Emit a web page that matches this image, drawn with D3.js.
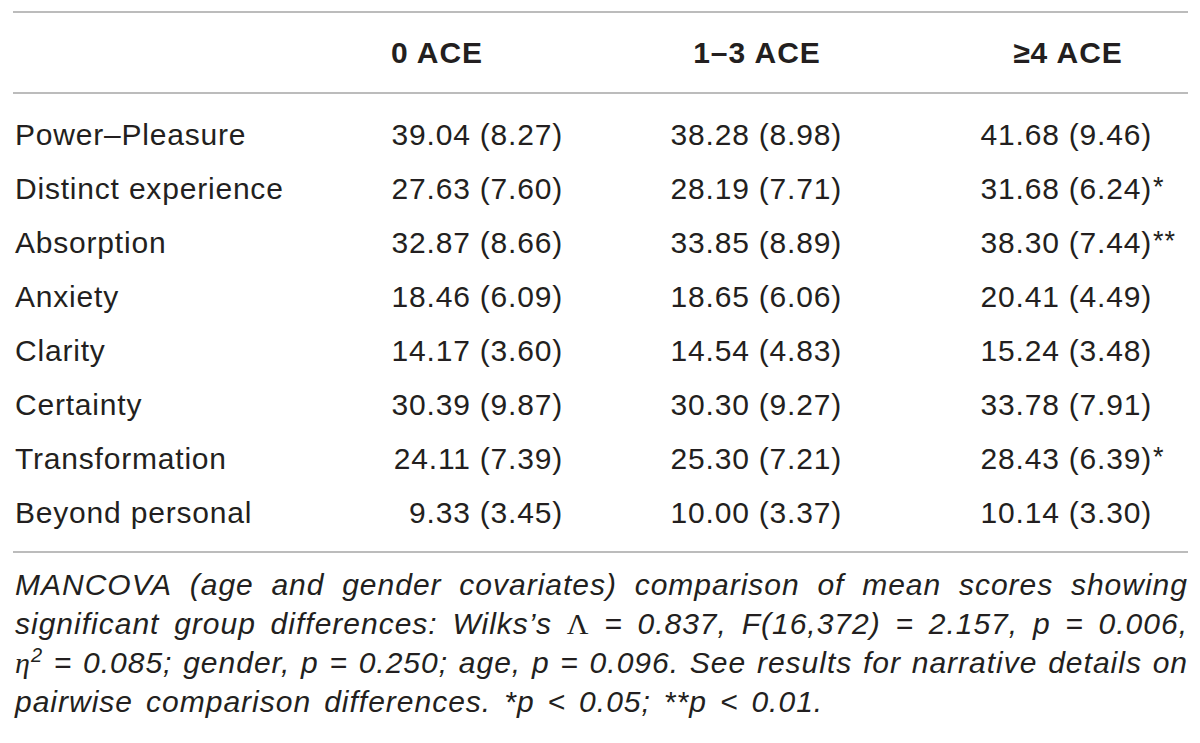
<!DOCTYPE html>
<html>
<head>
<meta charset="utf-8">
<script src="https://cdnjs.cloudflare.com/ajax/libs/d3/7.8.5/d3.min.js"></script>
<style>
  html, body { margin: 0; padding: 0; background: #fff; }
  svg text { font-family: "Liberation Sans", Arial, Helvetica, sans-serif; fill: #231f20; }
</style>
</head>
<body>
<svg id="table" width="1200" height="743"></svg>
<script>
// table data
var groups = ["0 ACE", "1–3 ACE", "≥4 ACE"];
var scales = ["Power–Pleasure", "Distinct experience", "Absorption", "Anxiety",
              "Clarity", "Certainty", "Transformation", "Beyond personal"];
var means0 = ["39.04", "27.63", "32.87", "18.46", "14.17", "30.39", "24.11", "9.33"];
var sds0   = ["8.27", "7.60", "8.66", "6.09", "3.60", "9.87", "7.39", "3.45"];
var means1 = ["38.28", "28.19", "33.85", "18.65", "14.54", "30.30", "25.30", "10.00"];
var sds1   = ["8.98", "7.71", "8.89", "6.06", "4.83", "9.27", "7.21", "3.37"];
var means4 = ["41.68", "31.68", "38.30", "20.41", "15.24", "33.78", "28.43", "10.14"];
var sds4   = ["9.46", "6.24", "7.44", "4.49", "3.48", "7.91", "6.39", "3.30"];
var sig4   = ["", "*", "**", "", "", "", "*", ""];

var noteLines = [
    "MANCOVA (age and gender covariates) comparison of mean scores showing",
    "significant group differences: Wilks’s Λ = 0.837, F(16,372) = 2.157, p = 0.006,",
    "η2 = 0.085; gender, p = 0.250; age, p = 0.096. See results for narrative details on",
    "pairwise comparison differences. *p < 0.05; **p < 0.01."
];

var svg = d3.select("#table");
var left = 13, right = 1188;

// rows and columns
var rowY = d3.scaleLinear().domain([0, scales.length - 1]).range([145, 523]);
var colRight = d3.scaleOrdinal().domain(groups).range([563, 842, 1152]);
var headX = d3.scaleOrdinal().domain(groups).range([437, 757, 1068]);

var columns = [
    {means: means0, sds: sds0, sig: null},
    {means: means1, sds: sds1, sig: null},
    {means: means4, sds: sds4, sig: sig4}
];

// rules
[12, 93, 552].forEach(function(y) {
    svg.append("line")
        .attr("x1", left).attr("x2", right)
        .attr("y1", y).attr("y2", y)
        .attr("stroke", "#bcbcbc")
        .attr("stroke-width", 2);
});

// header
svg.selectAll("text.head")
    .data(groups)
    .enter()
    .append("text")
    .attr("class", "head")
    .attr("x", function(d) { return headX(d); })
    .attr("y", 63)
    .attr("text-anchor", "middle")
    .style("font-size", "30px")
    .style("font-weight", "bold")
    .style("letter-spacing", "1px")
    .text(function(d) { return d; });

// row labels
svg.selectAll("text.label")
    .data(scales)
    .enter()
    .append("text")
    .attr("class", "label")
    .attr("x", 15)
    .attr("y", function(d, i) { return rowY(i); })
    .style("font-size", "30px")
    .style("letter-spacing", "0.8px")
    .text(function(d) { return d; });

// cells
columns.forEach(function(col, c) {
    var g = svg.append("g");
    var xr = colRight(groups[c]);
    g.selectAll("text.val")
        .data(col.means)
        .enter()
        .append("text")
        .attr("class", "val")
        .attr("x", xr)
        .attr("y", function(d, i) { return rowY(i); })
        .attr("text-anchor", "end")
        .style("font-size", "30px")
        .style("letter-spacing", "0.8px")
        .text(function(d, i) { return d + " (" + col.sds[i] + ")"; });
    if (col.sig) {
        g.selectAll("text.sig")
            .data(col.sig)
            .enter()
            .append("text")
            .attr("class", "sig")
            .attr("x", xr + 1)
            .attr("y", function(d, i) { return rowY(i) - 3; })
            .style("font-size", "27px")
            .style("letter-spacing", "1px")
            .text(function(d) { return d; });
    }
});

// footnote, justified line by line
var noteY = d3.scaleLinear().domain([0, noteLines.length - 1]).range([595, 712]);

function writeWord(sel, w) {
    if (w === "Λ") {
        sel.append("tspan")
            .style("font-style", "normal")
            .style("font-family", "'Liberation Serif', serif")
            .text("Λ");
    } else if (w === "η2") {
        sel.append("tspan").style("font-family", "'Liberation Serif', serif").text("η");
        sel.append("tspan").attr("dy", -11).style("font-size", "20px").text("2");
    } else {
        sel.text(w);
    }
}

noteLines.forEach(function(line, li) {
    var words = line.split(" ");
    var g = svg.append("g");
    var nodes = words.map(function(w) {
        var t = g.append("text")
            .attr("y", noteY(li))
            .style("font-size", "30px")
            .style("font-style", "italic")
            .style("letter-spacing", "1px");
        writeWord(t, w);
        return t;
    });
    var widths = nodes.map(function(t) { return t.node().getComputedTextLength(); });
    var total = d3.sum(widths);
    var last = li === noteLines.length - 1;
    var gap = last ? 13 : (right - 15 - total) / (words.length - 1);
    var x = 15;
    nodes.forEach(function(t, i) {
        t.attr("x", x);
        x += widths[i] + gap;
    });
});
</script>
</body>
</html>
